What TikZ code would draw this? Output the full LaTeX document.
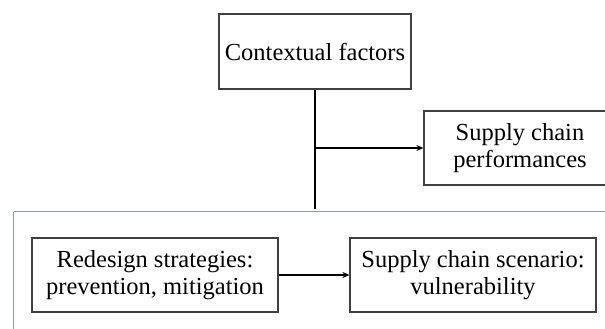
\documentclass[tikz,border=0pt]{standalone}
\usepackage{fontspec}
\setmainfont{Liberation Serif}
\usetikzlibrary{arrows.meta}
\definecolor{framecol}{RGB}{138,158,168}
\begin{document}
\begin{tikzpicture}[x=1pt,y=1pt,
  box/.style={draw=black!75, line width=1.2pt, fill=white, inner sep=0pt, align=center,
    font=\fontsize{24.5}{27}\selectfont},
  conn/.style={line width=1.5pt, black},
  arr/.style={conn, -{Stealth[length=7pt,width=6pt]}},
  frame/.style={draw=framecol, line width=1.8pt}]
\useasboundingbox (0,0) rectangle (605,-329);
\clip (0,0) rectangle (605,-329);
\fill[white] (0,0) rectangle (605,-329);
\draw[frame] (13.5,-211.5) -- (700,-211.5);
\draw[frame] (13.5,-211.5) -- (13.5,-400);
\node[box, minimum width=192pt, minimum height=75pt] (ctx) at (315,-51.5) {Contextual factors};
\node[box, minimum width=192pt, minimum height=74pt] (perf) at (520,-148) {Supply chain\\performances};
\node[box, minimum width=246pt, minimum height=74pt] (red) at (155,-275) {Redesign strategies:\\prevention, mitigation};
\node[box, minimum width=246pt, minimum height=74pt] (scen) at (473,-275) {Supply chain scenario:\\vulnerability};
\coordinate (down) at (ctx.center |- 0,-209);
\coordinate (split) at (ctx.center |- perf.west);
\draw[conn] (ctx.south) -- (down);
\draw[arr] (split) -- (perf.west);
\draw[arr] (red.east) -- (scen.west);
\end{tikzpicture}
\end{document}
